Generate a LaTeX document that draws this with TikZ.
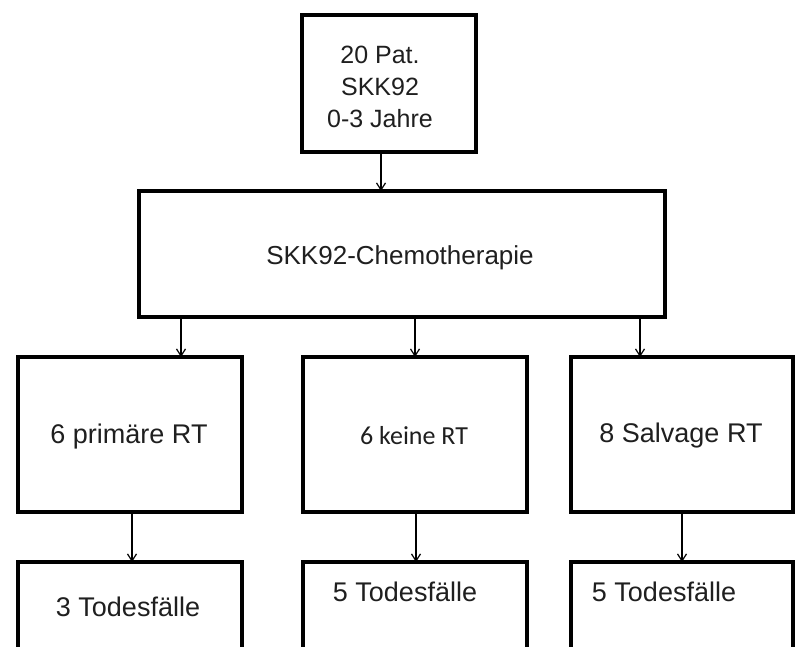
\documentclass[tikz,border=0pt]{standalone}
\usepackage{fontspec}
\setmainfont{Liberation Sans}
\newfontfamily\calfont{Carlito}
\usetikzlibrary{arrows.meta}
\begin{document}
\begin{tikzpicture}[x=1pt,y=-1pt,
  boxst/.style={draw=black,line width=4.5pt,rectangle,outer sep=0pt,inner sep=0pt},
  txt/.style={text=black!88,font=\fontsize{26}{31}\selectfont,align=center,inner sep=0pt},
  bigtxt/.style={txt,font=\fontsize{27}{31}\selectfont},
  arr/.style={line width=1.3pt,-{Straight Barb[length=7pt,width=9pt,line width=1.2pt]}}]
\useasboundingbox (0,0) rectangle (795,646);
\clip (0,0) rectangle (795,646);
\fill[white] (0,0) rectangle (795,646);
% boxes
\node[boxst,minimum width=174pt,minimum height=137pt] (top) at (389,83.5) {};
\node[boxst,minimum width=526pt,minimum height=126pt] (chem) at (402,254) {};
\node[boxst,minimum width=224pt,minimum height=155pt] (l1) at (130,434.5) {};
\node[boxst,minimum width=224pt,minimum height=155pt] (m1) at (415,434.5) {};
\node[boxst,minimum width=222pt,minimum height=155pt] (r1) at (682,434.5) {};
\node[boxst,minimum width=224pt,minimum height=160pt] (l2) at (130,642) {};
\node[boxst,minimum width=224pt,minimum height=160pt] (m2) at (415,642) {};
\node[boxst,minimum width=222pt,minimum height=160pt] (r2) at (682,642) {};
% texts
\node[txt,font=\fontsize{25}{32}\selectfont] (toptext) at (380,87) {20 Pat.\\SKK92\\0-3 Jahre};
\node[txt] (chemtext) at (400,258) {SKK92-Chemotherapie};
\node[bigtxt] (l1text) at (129,437) {6 primäre RT};
\node[txt,font=\calfont\fontsize{26}{31}\selectfont] (m1text) at (414,436) {6 keine RT};
\node[bigtxt] (r1text) at (681,436) {8 Salvage RT};
\node[bigtxt] (l2text) at (128,607) {3 Todesfälle};
\node[bigtxt] (m2text) at (405,592) {5 Todesfälle};
\node[bigtxt] (r2text) at (664,592) {5 Todesfälle};
% arrows
\draw[arr] (top.south -| 381,0) -- (chem.north -| 381,0);
\draw[arr] (chem.south -| 181,0) -- (l1.north -| 181,0);
\draw[arr] (chem.south -| 415,0) -- (m1.north -| 415,0);
\draw[arr] (chem.south -| 640,0) -- (r1.north -| 640,0);
\draw[arr] (l1.south -| 132,0) -- (l2.north -| 132,0);
\draw[arr] (m1.south -| 416,0) -- (m2.north -| 416,0);
\draw[arr] (r1.south -| 682,0) -- (r2.north -| 682,0);
\end{tikzpicture}
\end{document}
